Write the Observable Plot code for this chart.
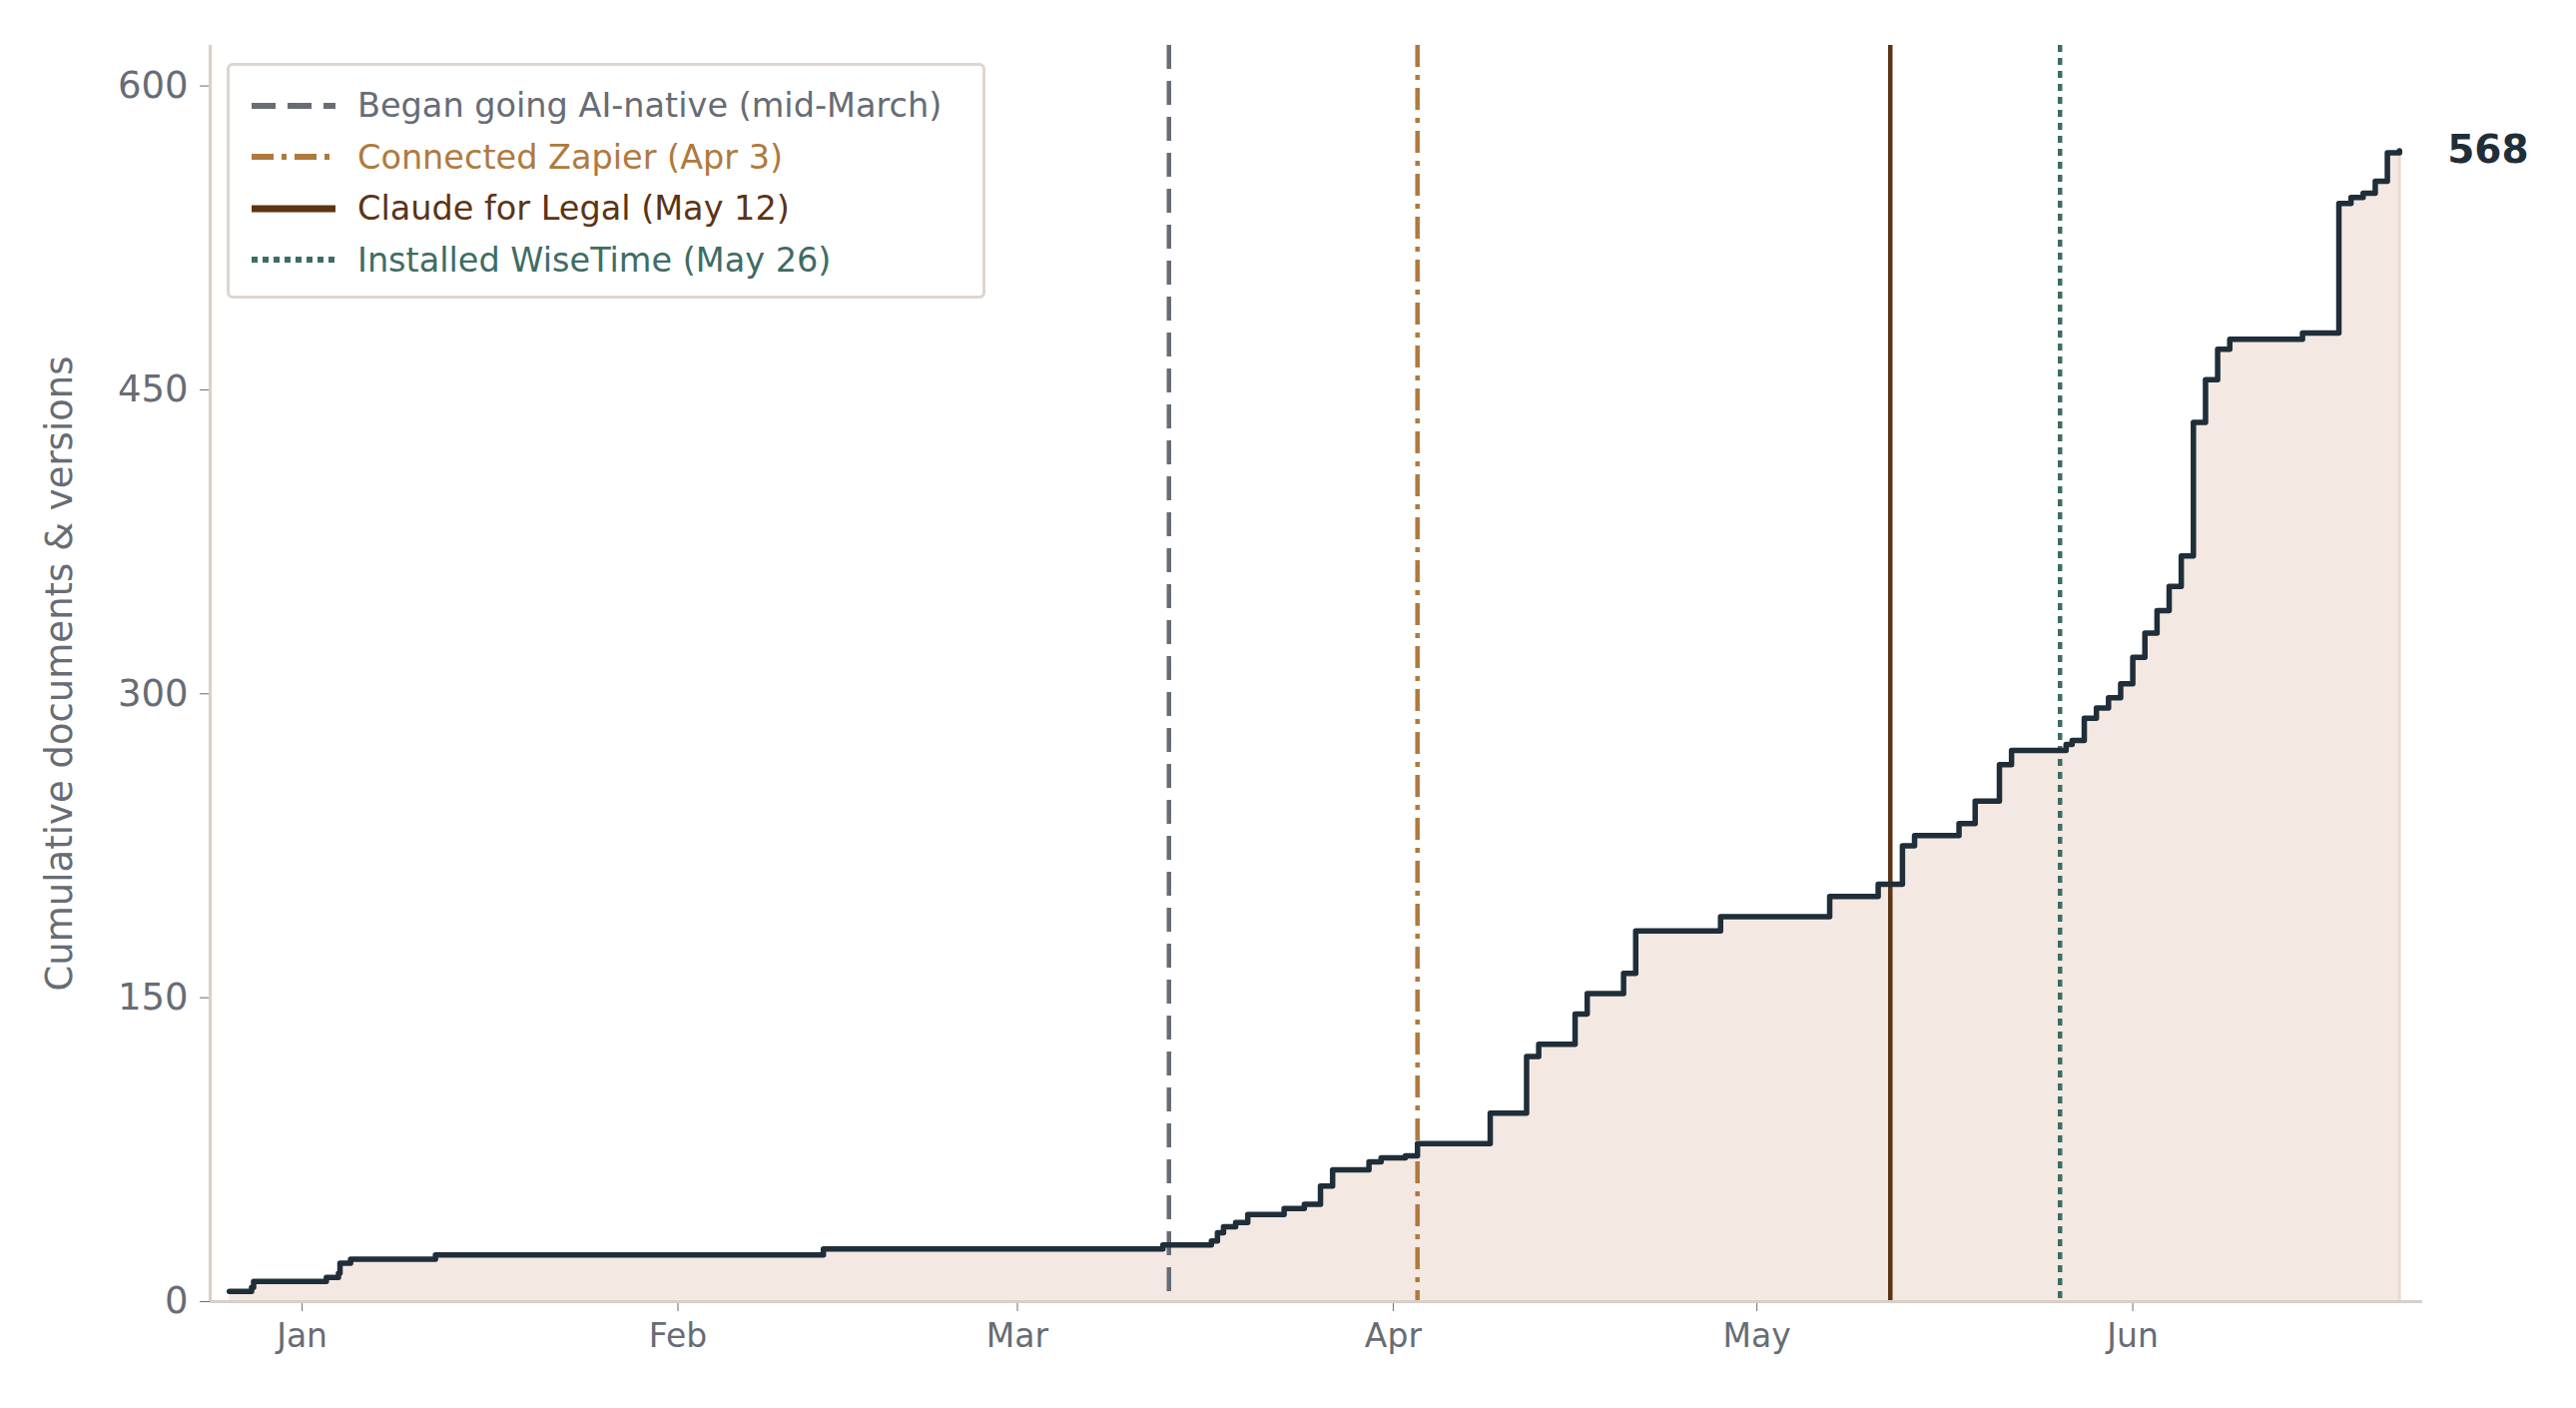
<!DOCTYPE html>
<html><head><meta charset="utf-8">
<script src="https://cdn.jsdelivr.net/npm/d3@7"></script>
<script src="https://cdn.jsdelivr.net/npm/@observablehq/plot@0.6"></script>
<style>
body{margin:0;background:#fff;font-family:"DejaVu Sans",sans-serif;}
#wrap{position:relative;width:2580px;height:1410px;}
#legend{position:absolute;left:227px;top:63px;width:760px;height:236px;border:3px solid #ddd5cf;border-radius:6px;background:rgba(255,255,255,0.9);box-sizing:border-box;padding:14px 0 0 22px;font-size:33.5px;}
.row{display:flex;align-items:center;height:51.5px;}
.row svg{margin-right:22px;}
</style></head><body>
<div id="wrap"><div id="chart"></div>
<div id="legend"></div></div>
<script>
const dates = ["2024-12-26","2024-12-27T20:00","2024-12-28","2025-01-03","2025-01-04","2025-01-04T03:00","2025-01-05","2025-01-12","2025-02-13","2025-03-13","2025-03-17","2025-03-17T12:00","2025-03-18","2025-03-19","2025-03-20","2025-03-23","2025-03-24T16:00","2025-03-26","2025-03-27","2025-03-30","2025-03-31","2025-04-02","2025-04-03","2025-04-09","2025-04-12","2025-04-13","2025-04-16","2025-04-17","2025-04-20","2025-04-21","2025-04-28","2025-05-07","2025-05-11","2025-05-13","2025-05-14","2025-05-17T16:00","2025-05-19","2025-05-21","2025-05-22","2025-05-26T12:00","2025-05-27","2025-05-28","2025-05-29","2025-05-30","2025-05-31","2025-06-01","2025-06-02","2025-06-03","2025-06-04","2025-06-05","2025-06-06","2025-06-07","2025-06-08","2025-06-09","2025-06-15","2025-06-18","2025-06-19","2025-06-20","2025-06-21","2025-06-22","2025-06-23"];
const cumulative = [5,7,10,12,14,19,21,23,26,28,30,34,37,39,43,46,48,57,65,69,71,72,78,93,121,127,142,152,162,183,190,200,206,225,230,236,247,265,272,275,277,288,293,298,305,318,330,341,353,368,434,455,470,475,478,542,545,547,553,567,568];
const monthTicks = ["2025-01-01","2025-02-01","2025-03-01","2025-04-01","2025-05-01","2025-06-01"];
const yTicks = [0,150,300,450,600];
const eventNames = ["Began going AI-native (mid-March)","Connected Zapier (Apr 3)","Claude for Legal (May 12)","Installed WiseTime (May 26)"];
const eventDates = ["2025-03-13T12:00","2025-04-03","2025-05-12","2025-05-26"];
const eventColors = ["#676c75","#b0793d","#5d3314","#3e6c64"];
const eventDash = ["24,12","22,8,5,8","none","7,6"];

const data = dates.map((d,i)=>({date:new Date(d+(d.length===10?"T00:00Z":"Z")), value:cumulative[i]}));
const events = eventNames.map((n,i)=>({name:n,date:new Date(eventDates[i]+(eventDates[i].length===10?"T00:00Z":"Z")),color:eventColors[i],dash:eventDash[i]}));
const last = data[data.length-1];
const x0 = new Date(Date.UTC(2024,11,24,10)), x1 = new Date(Date.UTC(2025,5,24,22));

const chart = Plot.plot({
  width:2580, height:1410,
  marginLeft:210, marginRight:154, marginTop:45, marginBottom:107,
  style:{fontFamily:"DejaVu Sans", fontSize:"36px", color:"#676c75", background:"#fff"},
  x:{type:"utc", domain:[x0, x1]},
  y:{domain:[0,620]},
  marks:[
    Plot.areaY(data,{x:"date",y:"value",curve:"step-after",fill:"#f3e8e2"}),
    Plot.ruleX([last],{x:"date",y1:0,y2:"value",stroke:"#eadbd0",strokeWidth:3}),
    ...events.map(e=>Plot.ruleX([e],{x:"date",stroke:e.color,strokeWidth:4.5,strokeDasharray:e.dash==="none"?null:e.dash})),
    Plot.line(data,{x:"date",y:"value",curve:"step-after",stroke:"#1f2e38",strokeWidth:5.5,strokeLinejoin:"round"}),
    Plot.text([last],{x:"date",y:"value",text:d=>String(d.value),dx:48,textAnchor:"start",fontWeight:"bold",fontSize:39,fill:"#1f2e38"}),
    Plot.axisX({ticks:monthTicks.map(d=>new Date(d+"T00:00Z")),tickFormat:d3.utcFormat("%b"),tickSize:10,tickPadding:12,stroke:"#676c75",fill:"#676c75",fontSize:33,label:null}),
    Plot.axisY({ticks:yTicks,tickSize:10,tickPadding:12,fontSize:37,fill:"#676c75",stroke:"#676c75",label:"Cumulative documents & versions",labelAnchor:"center",labelArrow:"none",labelOffset:165}),
    Plot.ruleX([x0],{stroke:"#d8cfc9",strokeWidth:3}),
    Plot.ruleY([0],{stroke:"#d8cfc9",strokeWidth:3})
  ]
});
document.getElementById("chart").appendChild(chart);

const lg = document.getElementById("legend");
events.forEach(e=>{
  const row=document.createElement("div"); row.className="row"; row.style.color=e.color;
  row.innerHTML=`<svg width="84" height="12"><line x1="0" x2="84" y1="6" y2="6" stroke="${e.color}" stroke-width="${e.dash==="none"?7:6}" ${e.dash==="none"?"":`stroke-dasharray="${e.dash==="7,6"?"6,5":e.dash}"`}/></svg><span>${e.name}</span>`;
  lg.appendChild(row);
});
</script></body></html>
